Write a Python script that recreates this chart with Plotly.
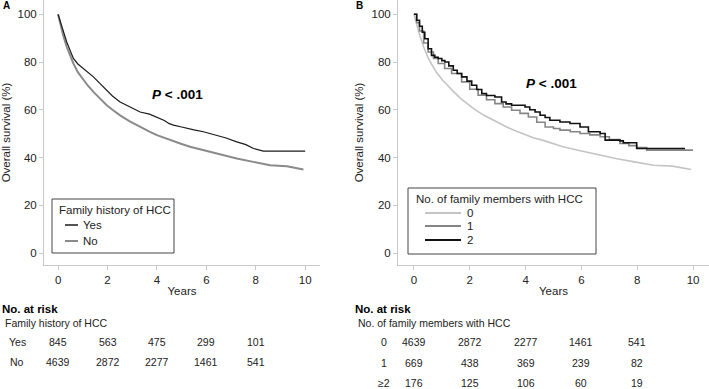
import plotly.graph_objects as go

# ---------------- data ----------------
years_ticks = [0, 2, 4, 6, 8, 10]
surv_ticks = [0, 20, 40, 60, 80, 100]

# Panel A: family history of HCC
yes_t = [0, 0.1, 0.2, 0.35, 0.5, 0.62, 0.8, 1.03, 1.2, 1.43, 1.7, 1.97, 2.2, 2.51, 2.9, 3.32,
         3.7, 4.0, 4.3, 4.5, 4.67, 5.0, 5.21, 5.5, 5.88, 6.3, 6.8, 7.23, 7.6, 7.91, 8.1, 8.31, 10.0]
yes_s = [100, 96.5, 93, 88.4, 84.5, 81.5, 79.2, 77.3, 75.8, 73.8, 71, 68.2, 65.8, 63.3, 61.2, 59.1,
         58.2, 57.0, 55.5, 54.2, 53.6, 52.8, 52.2, 51.6, 50.8, 49.6, 48.2, 46.6, 45.4, 43.8, 43.4, 42.7, 42.7]

no_t = [0, 0.1, 0.2, 0.35, 0.5, 0.62, 0.8, 1.03, 1.2, 1.43, 1.7, 1.97, 2.2, 2.51, 2.9, 3.32, 3.7,
        4.0, 4.3, 4.6, 5.0, 5.34, 5.88, 6.5, 7.23, 7.9, 8.58, 9.26, 9.6, 9.93]
no_s = [100, 95.5, 91.5, 86.3, 82, 79.4, 75.8, 72.4, 70.2, 67.5, 64.5, 61.9, 60, 57.7, 55.2, 52.8, 50.9,
        49.4, 48.2, 47.3, 45.7, 44.5, 43.1, 41.5, 39.6, 38.2, 36.8, 36.4, 35.8, 35.0]

# Panel B: number of family members with HCC
one_t = [0, 0.1, 0.2, 0.35, 0.51, 0.7, 0.87, 1.1, 1.35, 1.71, 2.0, 2.3, 2.6, 2.9, 3.2, 3.5, 3.8, 4.1,
         4.4, 4.7, 5.0, 5.23, 5.6, 5.95, 6.3, 6.67, 7.0, 7.38, 7.7, 7.98, 8.34, 10.0]
one_s = [100, 96.5, 93, 88, 84.2, 81.5, 79.4, 77.3, 75.2, 71.7, 68.6, 66.1, 64.2, 62.6, 61.2, 59.8, 58.5, 57.0,
         54.8, 52.8, 52.2, 51.5, 50.8, 50.1, 49.5, 48.7, 47.5, 45.9, 45.0, 44.2, 43.1, 43.1]

two_t = [0, 0.1, 0.2, 0.3, 0.39, 0.51, 0.63, 0.75, 0.87, 1.0, 1.11, 1.25, 1.41, 1.55, 1.71, 1.9, 2.07,
         2.25, 2.43, 2.6, 2.9, 3.14, 3.3, 3.5, 3.98, 4.15, 4.34, 4.52, 4.7, 4.87, 5.23, 5.59, 5.95, 6.25,
         6.67, 6.85, 7.38, 7.5, 7.98, 9.71]
two_s = [100, 97.5, 95, 92.5, 89.8, 85.6, 82.8, 82, 81.5, 80.6, 80.0, 78.4, 76.6, 75.2, 73.8, 72, 70.3,
         68.5, 66.8, 66, 65.4, 63.3, 62.5, 61.9, 61.2, 60, 59.1, 57.7, 56.8, 55.6, 54.9, 54.3, 52.8, 50.8,
         50.1, 47.3, 47.0, 46.2, 43.8, 43.8]

# Risk tables
risk_times = [0, 2, 4, 6, 8]
risk_a_labels = ["Yes", "No"]
risk_a = [[845, 563, 475, 299, 101],
          [4639, 2872, 2277, 1461, 541]]
risk_b_labels = ["0", "1", "≥2"]
risk_b = [[4639, 2872, 2277, 1461, 541],
          [669, 438, 369, 239, 82],
          [176, 125, 106, 60, 19]]

# ---------------- figure ----------------
W, H = 709, 389
FONT = "Arial, Liberation Sans, sans-serif"
TXT = "#222222"


def px(x):
    return x / W


def py(y):
    return 1 - y / H


fig = go.Figure()

c_yes, c_no = "#1a1a1a", "#8a8a8a"
c0, c1, c2 = "#c4c4c4", "#858585", "#111111"

fig.add_trace(go.Scatter(x=no_t, y=no_s, mode="lines", line=dict(color=c_no, width=2),
                         xaxis="x", yaxis="y", name="No", showlegend=False))
fig.add_trace(go.Scatter(x=yes_t, y=yes_s, mode="lines", line=dict(color=c_yes, width=1.2),
                         xaxis="x", yaxis="y", name="Yes", showlegend=False))

fig.add_trace(go.Scatter(x=no_t, y=no_s, mode="lines", line=dict(color=c0, width=1.6),
                         xaxis="x2", yaxis="y2", name="0", showlegend=False))
fig.add_trace(go.Scatter(x=one_t, y=one_s, mode="lines", line=dict(color=c1, width=1.6, shape="hv"),
                         xaxis="x2", yaxis="y2", name="1", showlegend=False))
fig.add_trace(go.Scatter(x=two_t, y=two_s, mode="lines", line=dict(color=c2, width=1.6, shape="hv"),
                         xaxis="x2", yaxis="y2", name="2", showlegend=False))

axis_common = dict(showgrid=False, zeroline=False, showline=True, linecolor="#c8c8c8", linewidth=1,
                   ticks="outside", tickcolor="#c8c8c8", ticklen=4,
                   tickfont=dict(family=FONT, size=11.5, color=TXT))

ydom = [py(265), 1]
fig.update_layout(
    width=W, height=H, margin=dict(l=0, r=0, t=0, b=0),
    paper_bgcolor="white", plot_bgcolor="white",
    font=dict(family=FONT, color=TXT),
    xaxis=dict(domain=[px(44), px(320)], range=[-0.57, 10.6], tickvals=years_ticks,
               title=dict(text="Years", font=dict(size=11.5, family=FONT, color=TXT), standoff=2),
               anchor="y", **axis_common),
    yaxis=dict(domain=ydom, range=[-5, 106], tickvals=surv_ticks,
               title=dict(text="Overall survival (%)", font=dict(size=11.5, family=FONT, color=TXT), standoff=5),
               anchor="x", **axis_common),
    xaxis2=dict(domain=[px(398), 1], range=[-0.57, 10.57], tickvals=years_ticks,
                title=dict(text="Years", font=dict(size=11.5, family=FONT, color=TXT), standoff=2),
                anchor="y2", **axis_common),
    yaxis2=dict(domain=ydom, range=[-5, 106], tickvals=surv_ticks,
                title=dict(text="Overall survival (%)", font=dict(size=11.5, family=FONT, color=TXT), standoff=5),
                anchor="x2", **axis_common),
)

ann = []
shapes = []


def note(text, x, y, size=11.5, xanchor="center", xref="paper", color=TXT):
    ann.append(dict(text=text, x=x if xref != "paper" else px(x), y=py(y), xref=xref, yref="paper",
                    xanchor=xanchor, yanchor="middle", showarrow=False,
                    font=dict(size=size, family=FONT, color=color)))


# Panel letters
note("<b>A</b>", 1, 5, size=10, xanchor="left", color="#000")
note("<b>B</b>", 354, 5, size=10, xanchor="left", color="#000")

# P-values
note("<b><i>P</i> < .001</b>", 177, 95, size=13.5, color="#000")
note("<b><i>P</i> < .001</b>", 551, 83, size=13.5, color="#000")

# Legend A
shapes.append(dict(type="rect", xref="paper", yref="paper", x0=px(52), x1=px(174), y0=py(253), y1=py(199),
                   line=dict(color="#444", width=1), fillcolor="white", layer="above"))
note("Family history of HCC", 57, 210, xanchor="left")
for lab, col, wd, yy in [("Yes", c_yes, 1.5, 225), ("No", c_no, 2, 241)]:
    shapes.append(dict(type="line", xref="paper", yref="paper", x0=px(65), x1=px(78), y0=py(yy), y1=py(yy),
                       line=dict(color=col, width=wd)))
    note(lab, 81, yy, xanchor="left")

# Legend B
shapes.append(dict(type="rect", xref="paper", yref="paper", x0=px(408), x1=px(596), y0=py(254), y1=py(188),
                   line=dict(color="#444", width=1), fillcolor="white", layer="above"))
note("No. of family members with HCC", 414, 199, xanchor="left")
for lab, col, yy in [("0", c0, 213), ("1", c1, 226), ("2", c2, 240)]:
    shapes.append(dict(type="line", xref="paper", yref="paper", x0=px(425), x1=px(461), y0=py(yy), y1=py(yy),
                       line=dict(color=col, width=1.8)))
    note(lab, 465, yy, xanchor="left")

# Risk tables
note("<b>No. at risk</b>", 0, 309, xanchor="left", color="#000")
note("Family history of HCC", 3, 323, size=10.5, xanchor="left")
for lab, row, yy in zip(risk_a_labels, risk_a, [342, 362]):
    note(lab, 17, yy, size=10.5)
    for t, v in zip(risk_times, row):
        note(str(v), t, yy, size=10.5, xref="x")

note("<b>No. at risk</b>", 353, 309, xanchor="left", color="#000")
note("No. of family members with HCC", 356, 323, size=10.5, xanchor="left")
for lab, row, yy in zip(risk_b_labels, risk_b, [342, 363, 383]):
    note(lab, 384, yy, size=10.5)
    for t, v in zip(risk_times, row):
        note(str(v), t, yy, size=10.5, xref="x2")

fig.update_layout(annotations=ann, shapes=shapes)
fig.write_html("out.html", config={"displayModeBar": False},
               post_script="document.body.style.margin='0';")
